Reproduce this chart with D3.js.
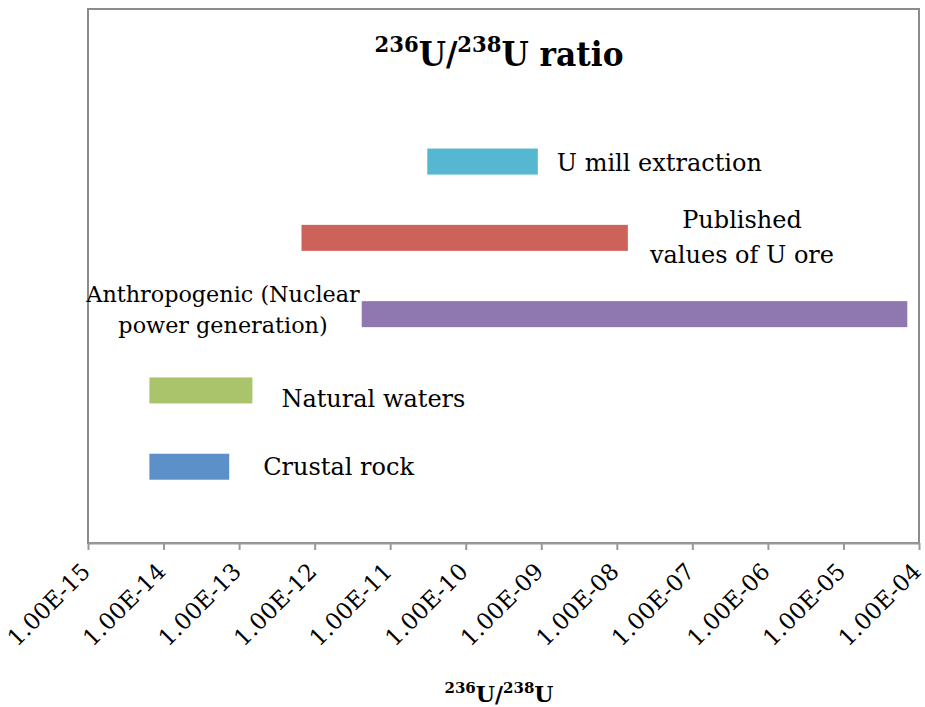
<!DOCTYPE html>
<html>
<head>
<meta charset="utf-8">
<script src="https://cdn.jsdelivr.net/npm/d3@7"></script>
<style>
  html, body { margin: 0; padding: 0; background: #fff; }
  svg { display: block; font-family: "DejaVu Serif", serif; }
</style>
</head>
<body>
<svg id="chart" width="925" height="707"></svg>
<script>
// Ranges of the 236U/238U ratio by source
const categories = [
  "Crustal rock",
  "Natural waters",
  "Anthropogenic (Nuclear power generation)",
  "Published values of U ore",
  "U mill extraction"
];
const lowValues  = [6.5e-15, 6.5e-15, 4.2e-12, 6.7e-13, 3.1e-11];
const highValues = [7.4e-14, 1.5e-13, 7.0e-5, 1.4e-8, 9.0e-10];
const barColors  = ["#5b90c8", "#a9c46b", "#8f78b0", "#cc6259", "#55b8d0"];
const tickValues = [1e-15, 1e-14, 1e-13, 1e-12, 1e-11, 1e-10, 1e-9, 1e-8, 1e-7, 1e-6, 1e-5, 1e-4];
const tickLabels = ["1.00E-15", "1.00E-14", "1.00E-13", "1.00E-12", "1.00E-11", "1.00E-10",
                    "1.00E-09", "1.00E-08", "1.00E-07", "1.00E-06", "1.00E-05", "1.00E-04"];

const svg = d3.select("#chart");
const frame = { left: 88, right: 919, top: 9, bottom: 543 };

const x = d3.scaleLog()
  .domain([tickValues[0], tickValues[tickValues.length - 1]])
  .range([frame.left, frame.right]);

// rows sit on whole-number slots of a 0..7 vertical scale
const y = d3.scaleLinear().domain([0, 7]).range([frame.bottom, frame.top]);
const rowSlot = (i) => i + 1;
const barH = 26;

// plot frame
svg.append("rect")
  .attr("x", frame.left).attr("y", frame.top)
  .attr("width", frame.right - frame.left).attr("height", frame.bottom - frame.top)
  .attr("fill", "none").attr("stroke", "#8c8c8c").attr("stroke-width", 2);

// x axis
const axis = d3.axisBottom(x)
  .tickValues(tickValues)
  .tickFormat((d, i) => tickLabels[i])
  .tickSizeOuter(0)
  .tickSizeInner(7);

const gx = svg.append("g")
  .attr("transform", `translate(0,${frame.bottom})`)
  .call(axis);
gx.select(".domain").attr("stroke", "#999").attr("stroke-width", 2);
gx.selectAll(".tick line").attr("stroke", "#999").attr("stroke-width", 2);
gx.selectAll(".tick text")
  .attr("font-family", "DejaVu Serif")
  .attr("font-size", 23)
  .attr("fill", "#000")
  .attr("text-anchor", "end")
  .attr("x", 0).attr("y", 0).attr("dy", 0)
  .attr("transform", "translate(3,30) rotate(-45)");

// range bars
svg.append("g").selectAll("rect")
  .data(categories)
  .join("rect")
  .attr("x", (d, i) => x(lowValues[i]))
  .attr("width", (d, i) => x(highValues[i]) - x(lowValues[i]))
  .attr("y", (d, i) => y(rowSlot(i)) - barH / 2)
  .attr("height", barH)
  .attr("fill", (d, i) => barColors[i]);

// bar labels
const labels = [
  { lines: ["Crustal rock"], size: 24, gap: 0, anchor: "start", dx: (i) => x(highValues[i]) + 34, dy: 8 },
  { lines: ["Natural waters"], size: 24, gap: 0, anchor: "start", dx: (i) => x(highValues[i]) + 29, dy: 17 },
  { lines: ["Anthropogenic (Nuclear", "power generation)"], size: 22.3, gap: 31, anchor: "middle", dx: () => 223, dy: -12 },
  { lines: ["Published", "values of U ore"], size: 24, gap: 35, anchor: "middle", dx: () => 742, dy: -10 },
  { lines: ["U mill extraction"], size: 24, gap: 0, anchor: "start", dx: (i) => x(highValues[i]) + 19, dy: 9 }
];
labels.forEach((lab, i) => {
  const t = svg.append("text")
    .attr("font-size", lab.size)
    .attr("fill", "#000")
    .attr("text-anchor", lab.anchor)
    .attr("x", lab.dx(i))
    .attr("y", y(rowSlot(i)) + lab.dy);
  lab.lines.forEach((line, k) => {
    t.append("tspan").attr("x", lab.dx(i)).attr("dy", k === 0 ? 0 : lab.gap).text(line);
  });
});

// isotope-ratio text with superscript mass numbers
function isotopeRatio(sel, size, supSize, tail) {
  const parts = [["236", true], ["U/", false], ["238", true], ["U" + tail, false]];
  parts.forEach(([s, sup]) => {
    sel.append("tspan")
      .attr("font-size", sup ? supSize : size)
      .attr("baseline-shift", sup ? "super" : null)
      .text(s);
  });
}

// chart title, slightly narrowed to keep the heavy serif within its line
const title = svg.append("text")
  .attr("x", 0).attr("y", 0)
  .attr("text-anchor", "middle")
  .attr("font-weight", "bold")
  .attr("fill", "#000")
  .attr("transform", "translate(499,66) scale(0.92,1)");
isotopeRatio(title, 34, 23, " ratio");

const xTitle = svg.append("text")
  .attr("x", 499).attr("y", 702)
  .attr("text-anchor", "middle")
  .attr("font-weight", "bold")
  .attr("fill", "#000");
isotopeRatio(xTitle, 22, 15, "");
</script>
</body>
</html>
